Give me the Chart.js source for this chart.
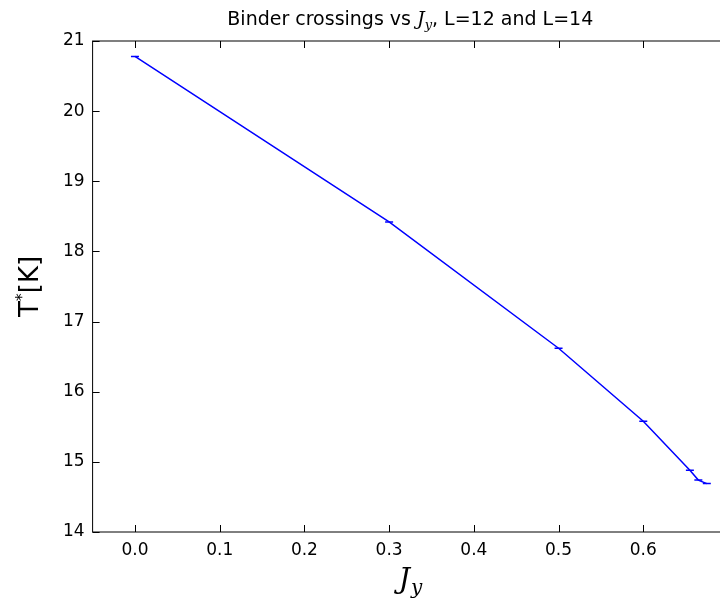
<!DOCTYPE html>
<html>
<head>
<meta charset="utf-8">
<script src="https://cdn.jsdelivr.net/npm/chart.js@4.4.1/dist/chart.umd.min.js"></script>
<style>
  html, body { margin: 0; padding: 0; background: #fff; overflow: hidden; }
  #wrap { width: 720px; height: 606px; overflow: hidden; position: relative; }
  #chart { position: absolute; left: 0; top: 0; }
</style>
</head>
<body>
<div id="wrap"><canvas id="chart" width="736" height="606"></canvas></div>
<script>
// データ
const jyValues = [0, 0.3, 0.5, 0.6, 0.655, 0.665, 0.675];
const tCross = [20.78, 18.42, 16.62, 15.58, 14.88, 14.74, 14.69];
const xTicks = [0.0, 0.1, 0.2, 0.3, 0.4, 0.5, 0.6, 0.7];
const yTicks = [14, 15, 16, 17, 18, 19, 20, 21];

const FONT = '"DejaVu Sans", sans-serif';

/**
 * 枠線・内向き目盛り・タイトル類
 */
const framePlugin = {
  id: 'mplFrame',
  afterDraw(chart) {
    const { ctx, chartArea: a } = chart;
    const sx = chart.scales.x;
    const sy = chart.scales.y;
    ctx.save();
    ctx.strokeStyle = '#000';
    ctx.lineWidth = 1;
    ctx.strokeRect(a.left, a.top, a.right - a.left, a.bottom - a.top);

    // 内向きの目盛り
    const len = 7;
    ctx.beginPath();
    for (const v of xTicks) {
      const px = Math.round(sx.getPixelForValue(v)) + 0.5;
      ctx.moveTo(px, a.bottom); ctx.lineTo(px, a.bottom - len);
      ctx.moveTo(px, a.top); ctx.lineTo(px, a.top + len);
    }
    for (const v of yTicks) {
      const py = Math.round(sy.getPixelForValue(v)) + 0.5;
      ctx.moveTo(a.left, py); ctx.lineTo(a.left + len, py);
      ctx.moveTo(a.right, py); ctx.lineTo(a.right - len, py);
    }
    ctx.stroke();

    // タイトル
    ctx.fillStyle = '#000';
    ctx.textBaseline = 'alphabetic';
    const cx = (a.left + a.right) / 2;
    const parts = [
      { t: 'Binder crossings vs ', f: '19px ' + FONT, dy: 0 },
      { t: 'J', f: 'italic 19px "DejaVu Serif", serif', dy: 0 },
      { t: 'y', f: 'italic 13px "DejaVu Serif", serif', dy: 4 },
      { t: ', L=12 and L=14', f: '19px ' + FONT, dy: 0 }
    ];
    let total = 0;
    for (const p of parts) { ctx.font = p.f; p.w = ctx.measureText(p.t).width; total += p.w; }
    let x = cx - total / 2;
    for (const p of parts) {
      ctx.font = p.f;
      ctx.fillText(p.t, x, 25 + p.dy);
      x += p.w;
    }

    // x軸ラベル J_y
    ctx.font = 'italic 28px "DejaVu Serif", serif';
    const jw = ctx.measureText('J').width;
    ctx.fillText('J', cx - jw / 2 - 6, 588);
    ctx.font = 'italic 20px "DejaVu Serif", serif';
    ctx.fillText('y', cx + jw / 2 - 5, 594);

    // y軸ラベル T*[K]
    ctx.translate(38, (a.top + a.bottom) / 2);
    ctx.rotate(-Math.PI / 2);
    ctx.font = '26px ' + FONT;
    const tw = ctx.measureText('T').width;
    ctx.font = '16px ' + FONT;
    const sw = ctx.measureText('*').width;
    ctx.font = '26px ' + FONT;
    const kw = ctx.measureText('[K]').width;
    let yx = -(tw + sw + kw) / 2;
    ctx.fillText('T', yx, 0); yx += tw;
    ctx.font = '16px ' + FONT;
    ctx.fillText('*', yx, -11); yx += sw;
    ctx.font = '26px ' + FONT;
    ctx.fillText('[K]', yx, 0);
    ctx.restore();
  }
};

document.addEventListener('DOMContentLoaded', function() {
  const ctx = document.getElementById('chart').getContext('2d');
  new Chart(ctx, {
    type: 'line',
    data: {
      datasets: [{
        data: jyValues.map((v, i) => ({ x: v, y: tCross[i] })),
        borderColor: '#0000ff',
        borderWidth: 1.5,
        pointStyle: 'line',
        pointRadius: 4,
        pointBorderColor: '#0000ff',
        pointBorderWidth: 1.5,
        tension: 0,
        fill: false
      }]
    },
    options: {
      responsive: false,
      animation: false,
      events: [],
      layout: { padding: { top: 41, right: 8, left: 0, bottom: 0 } },
      plugins: { legend: { display: false }, title: { display: false }, tooltip: { enabled: false } },
      scales: {
        x: {
          type: 'linear',
          min: -0.05,
          max: 0.7,
          afterBuildTicks: axis => { axis.ticks = xTicks.map(v => ({ value: v })); },
          afterFit: axis => { axis.height = 74; },
          grid: { display: false, drawTicks: false },
          border: { display: false },
          ticks: {
            color: '#000',
            font: { family: FONT, size: 17 },
            padding: 8,
            callback: v => (v === 0.7 ? '' : Number(v).toFixed(1))
          }
        },
        y: {
          type: 'linear',
          min: 14,
          max: 21,
          afterBuildTicks: axis => { axis.ticks = yTicks.map(v => ({ value: v })); },
          afterFit: axis => { axis.width = 92.6; },
          grid: { display: false, drawTicks: false },
          border: { display: false },
          ticks: {
            color: '#000',
            font: { family: FONT, size: 17 },
            padding: 8,
            callback: v => String(v)
          }
        }
      }
    },
    plugins: [framePlugin]
  });
});
</script>
</body>
</html>
